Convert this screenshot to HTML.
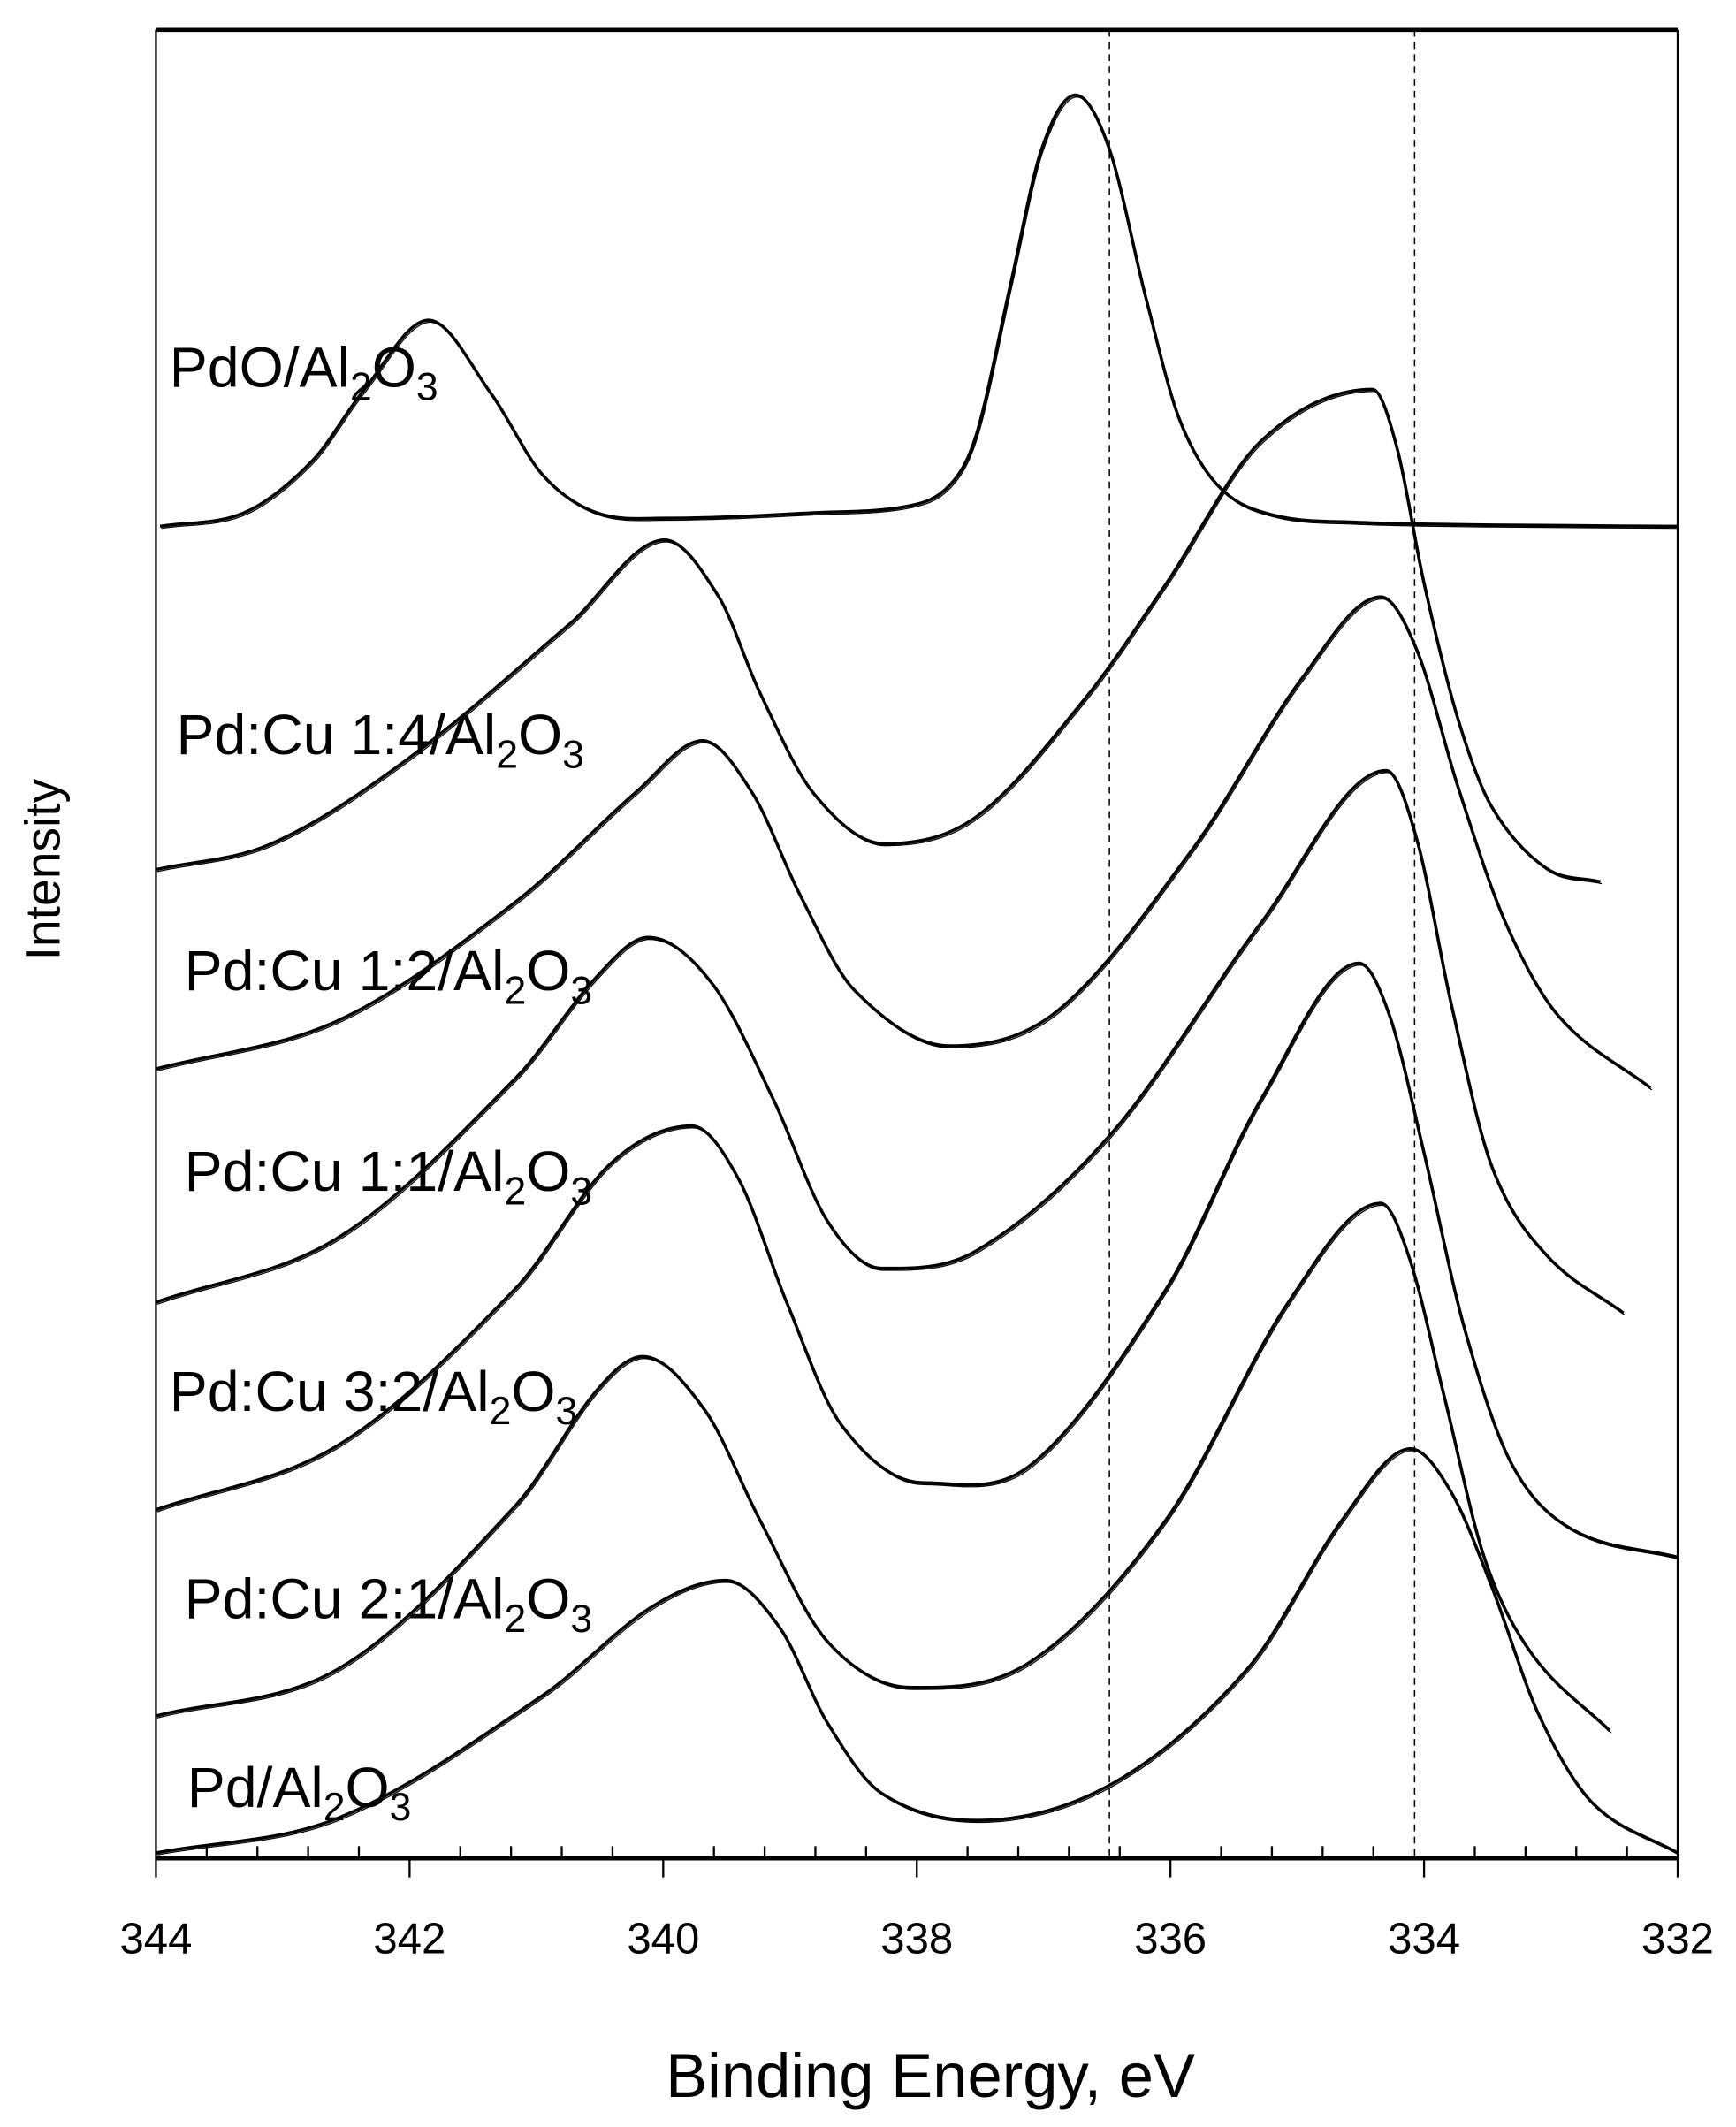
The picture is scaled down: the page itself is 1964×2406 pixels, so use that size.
<!DOCTYPE html>
<html><head><meta charset="utf-8"><style>
html,body{margin:0;padding:0;background:#fff;}
svg{display:block;}
text{font-family:"Liberation Sans",sans-serif;fill:#000;}
</style></head><body>
<svg id="s" width="1964" height="2406" viewBox="0 0 1280 1568" xmlns="http://www.w3.org/2000/svg">
<rect x="0" y="0" width="1280" height="1568" fill="#fff"/>
<line x1="115" y1="22" x2="1237" y2="22" stroke="#000" stroke-width="3"/>
<line x1="115" y1="22" x2="115" y2="1370" stroke="#000" stroke-width="1.5"/>
<line x1="1237" y1="22" x2="1237" y2="1370" stroke="#000" stroke-width="1.5"/>
<line x1="115" y1="1370" x2="1237" y2="1370" stroke="#000" stroke-width="3"/>
<line x1="818" y1="22" x2="818" y2="1370" stroke="#000" stroke-width="1" stroke-dasharray="5,4"/>
<line x1="1043" y1="22" x2="1043" y2="1370" stroke="#000" stroke-width="1" stroke-dasharray="5,4"/>
<g id="ticks" stroke="#000" stroke-width="1.5"></g>
<g id="curves" fill="none" stroke="#000" stroke-width="2.3" stroke-linejoin="round"></g>
<g font-size="32" text-anchor="middle">
<text x="115" y="1440">344</text><text x="302" y="1440">342</text><text x="489" y="1440">340</text><text x="676" y="1440">338</text><text x="863" y="1440">336</text><text x="1050" y="1440">334</text><text x="1237" y="1440">332</text>
</g>
<text x="686" y="1546" font-size="46" text-anchor="middle">Binding Energy, eV</text>
<text transform="translate(44,641) rotate(-90)" font-size="36" text-anchor="middle">Intensity</text>
<g font-size="42">
<text x="125" y="285">PdO/Al<tspan font-size="29" dy="10">2</tspan><tspan dy="-10">O</tspan><tspan font-size="29" dy="10">3</tspan></text>
<text x="130" y="556">Pd:Cu 1:4/Al<tspan font-size="29" dy="10">2</tspan><tspan dy="-10">O</tspan><tspan font-size="29" dy="10">3</tspan></text>
<text x="136" y="730">Pd:Cu 1:2/Al<tspan font-size="29" dy="10">2</tspan><tspan dy="-10">O</tspan><tspan font-size="29" dy="10">3</tspan></text>
<text x="136" y="878">Pd:Cu 1:1/Al<tspan font-size="29" dy="10">2</tspan><tspan dy="-10">O</tspan><tspan font-size="29" dy="10">3</tspan></text>
<text x="125" y="1040">Pd:Cu 3:2/Al<tspan font-size="29" dy="10">2</tspan><tspan dy="-10">O</tspan><tspan font-size="29" dy="10">3</tspan></text>
<text x="136" y="1193">Pd:Cu 2:1/Al<tspan font-size="29" dy="10">2</tspan><tspan dy="-10">O</tspan><tspan font-size="29" dy="10">3</tspan></text>
<text x="138" y="1332">Pd/Al<tspan font-size="29" dy="10">2</tspan><tspan dy="-10">O</tspan><tspan font-size="29" dy="10">3</tspan></text>
</g>
</svg>
<script>
var NS="http://www.w3.org/2000/svg";
var tg=document.getElementById("ticks");
for(var i=0;i<=30;i++){var x=115+i*1122/30;var l=document.createElementNS(NS,"line");
l.setAttribute("x1",x);l.setAttribute("x2",x);
if(i%5==0){l.setAttribute("y1",1370);l.setAttribute("y2",1384);}else{l.setAttribute("y1",1361);l.setAttribute("y2",1370);}
tg.appendChild(l);}
var S=[
[[118,388],[180,378],[230,340],[268,288],[316,236],[362,290],[400,350],[440,378],[490,382],[600,378],[670,373],[700,358],[720,320],[745,210],[768,110],[793,70],[818,110],[845,220],[870,310],[900,360],[940,380],[1000,385],[1100,387],[1237,388]],
[[115,641],[200,622],[300,560],[420,460],[490,398],[530,440],[560,510],[600,585],[652,622],[720,602],[800,515],[860,430],[930,325],[1012,287],[1030,330],[1050,430],[1075,530],[1100,595],[1140,640],[1180,650]],
[[115,788],[250,752],[380,665],[470,583],[518,546],[555,585],[590,660],[630,730],[700,771],[780,745],[880,625],[960,500],[1018,440],[1045,480],[1075,580],[1110,680],[1150,750],[1217,802]],
[[115,960],[250,912],[380,795],[440,720],[478,691],[525,725],[570,810],[610,900],[650,935],[720,922],[820,835],[930,680],[1022,568],[1045,620],[1070,740],[1100,860],[1140,925],[1197,968]],
[[115,1113],[250,1065],[380,950],[450,858],[510,830],[545,870],[580,960],[620,1050],[680,1093],[760,1080],[860,950],[930,810],[1002,710],[1025,750],[1050,850],[1080,980],[1115,1080],[1160,1128],[1237,1148]],
[[115,1265],[250,1230],[380,1110],[440,1025],[474,1000],[520,1040],[560,1120],[610,1210],[672,1244],[760,1225],[860,1120],[950,960],[1018,887],[1040,930],[1065,1030],[1095,1150],[1130,1220],[1187,1276]],
[[115,1366],[250,1340],[400,1250],[480,1185],[535,1165],[575,1200],[610,1270],[650,1322],[720,1342],[820,1315],[920,1230],[990,1120],[1040,1068],[1070,1100],[1100,1170],[1135,1265],[1175,1330],[1237,1366]]
];
function herm(p){var n=p.length,m=[];
for(var i=0;i<n;i++){
 if(i==0)m[i]=(p[1][1]-p[0][1])/(p[1][0]-p[0][0]);
 else if(i==n-1)m[i]=(p[n-1][1]-p[n-2][1])/(p[n-1][0]-p[n-2][0]);
 else{var a=p[i][1]-p[i-1][1],b=p[i+1][1]-p[i][1];
  if(a*b<0)m[i]=0;else m[i]=(p[i+1][1]-p[i-1][1])/(p[i+1][0]-p[i-1][0]);}}
var s="M"+p[0][0]+","+p[0][1];
for(i=0;i<n-1;i++){var h=p[i+1][0]-p[i][0];
s+=" C"+(p[i][0]+h/3)+","+(p[i][1]+m[i]*h/3)+" "+(p[i+1][0]-h/3)+","+(p[i+1][1]-m[i+1]*h/3)+" "+p[i+1][0]+","+p[i+1][1];}
return s;}
var cg=document.getElementById("curves");
S.forEach(function(p){var d=herm(p);
var e=document.createElementNS(NS,"path");e.setAttribute("d",d);cg.appendChild(e);
var e2=document.createElementNS(NS,"path");e2.setAttribute("d",d);e2.setAttribute("stroke-width","0.8");e2.setAttribute("transform","translate(1,1.5)");cg.appendChild(e2);});
</script>
</body></html>
